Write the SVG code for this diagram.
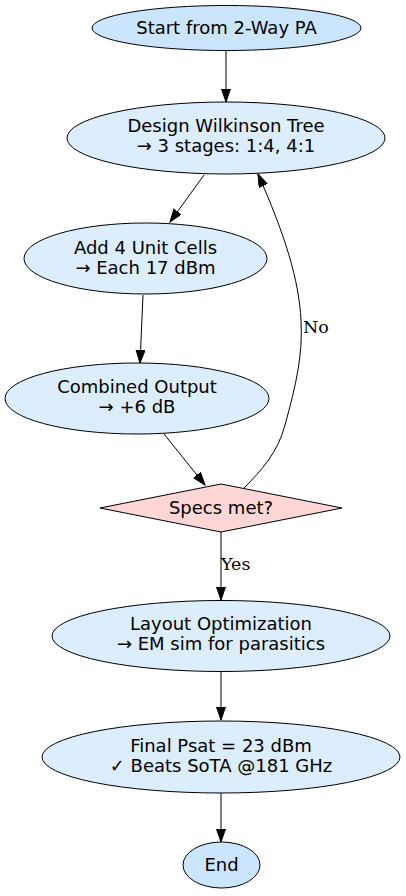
<svg xmlns="http://www.w3.org/2000/svg" width="406" height="896" viewBox="0 0 406 896">
<defs>
<style>
.n{stroke:#000;stroke-width:1}
.t{font-family:"DejaVu Sans","Liberation Sans",sans-serif;font-size:18px;text-anchor:middle;fill:#000}
.l{font-family:"DejaVu Serif","Liberation Serif",serif;font-size:17.5px;fill:#000}
.e{fill:none;stroke:#000;stroke-width:1}
.term{fill:#cce5ff}
.proc{fill:#dcedfd}
.dec{fill:#ffd6d6}
</style>
<marker id="ah" markerUnits="userSpaceOnUse" markerWidth="14" markerHeight="10" refX="13" refY="4.5" orient="auto">
<path d="M0,0 L13,4.5 L0,9 z" fill="#000" stroke="#000" stroke-width="1"/>
</marker>
</defs>
<rect width="406" height="896" fill="#fff"/>
<g id="edges">
<path class="e" d="M226,50 L226,102" marker-end="url(#ah)"/>
<path class="e" d="M204,175 L170,222" marker-end="url(#ah)"/>
<path class="e" d="M143,295 L140,363" marker-end="url(#ah)"/>
<path class="e" d="M164,434 L205,485" marker-end="url(#ah)"/>
<path class="e" d="M243,489 C262,470 278,452 285,425 C296,385 303,355 301,320 C299,280 285,235 258,174" marker-end="url(#ah)"/>
<text class="l" x="303" y="333">No</text>
<path class="e" d="M221,532 L221,600" marker-end="url(#ah)"/>
<text class="l" x="221" y="570">Yes</text>
<path class="e" d="M221,671 L221,720" marker-end="url(#ah)"/>
<path class="e" d="M221,793 L221,842" marker-end="url(#ah)"/>
</g>
<g id="start">
<ellipse class="n term" cx="226.5" cy="28" rx="134.5" ry="22.5"/>
<text class="t" x="226.5" y="34">Start from 2-Way PA</text>
</g>
<g id="design">
<ellipse class="n proc" cx="226" cy="138" rx="159" ry="36"/>
<text class="t" x="226" y="132">Design Wilkinson Tree</text>
<text class="t" x="226" y="152">→ 3 stages: 1:4, 4:1</text>
</g>
<g id="add">
<ellipse class="n proc" cx="145.5" cy="258.5" rx="121.5" ry="35.5"/>
<text class="t" x="145.5" y="254">Add 4 Unit Cells</text>
<text class="t" x="145.5" y="274">→ Each 17 dBm</text>
</g>
<g id="combined">
<ellipse class="n proc" cx="137" cy="398.5" rx="132" ry="35.5"/>
<text class="t" x="137" y="393">Combined Output</text>
<text class="t" x="137" y="413">→ +6 dB</text>
</g>
<g id="specs">
<polygon class="n dec" points="221,484 342,508 221,532 100,508"/>
<text class="t" x="221" y="514">Specs met?</text>
</g>
<g id="layout">
<ellipse class="n proc" cx="221" cy="636" rx="169" ry="35.5"/>
<text class="t" x="221" y="630">Layout Optimization</text>
<text class="t" x="221" y="650">→ EM sim for parasitics</text>
</g>
<g id="final">
<ellipse class="n proc" cx="221" cy="757" rx="179" ry="36"/>
<text class="t" x="221" y="752">Final Psat = 23 dBm</text>
<text class="t" x="221" y="772">✓ Beats SoTA @181 GHz</text>
</g>
<g id="end">
<ellipse class="n term" cx="221.5" cy="865" rx="38.5" ry="23"/>
<text class="t" x="221.5" y="871">End</text>
</g>
</svg>
